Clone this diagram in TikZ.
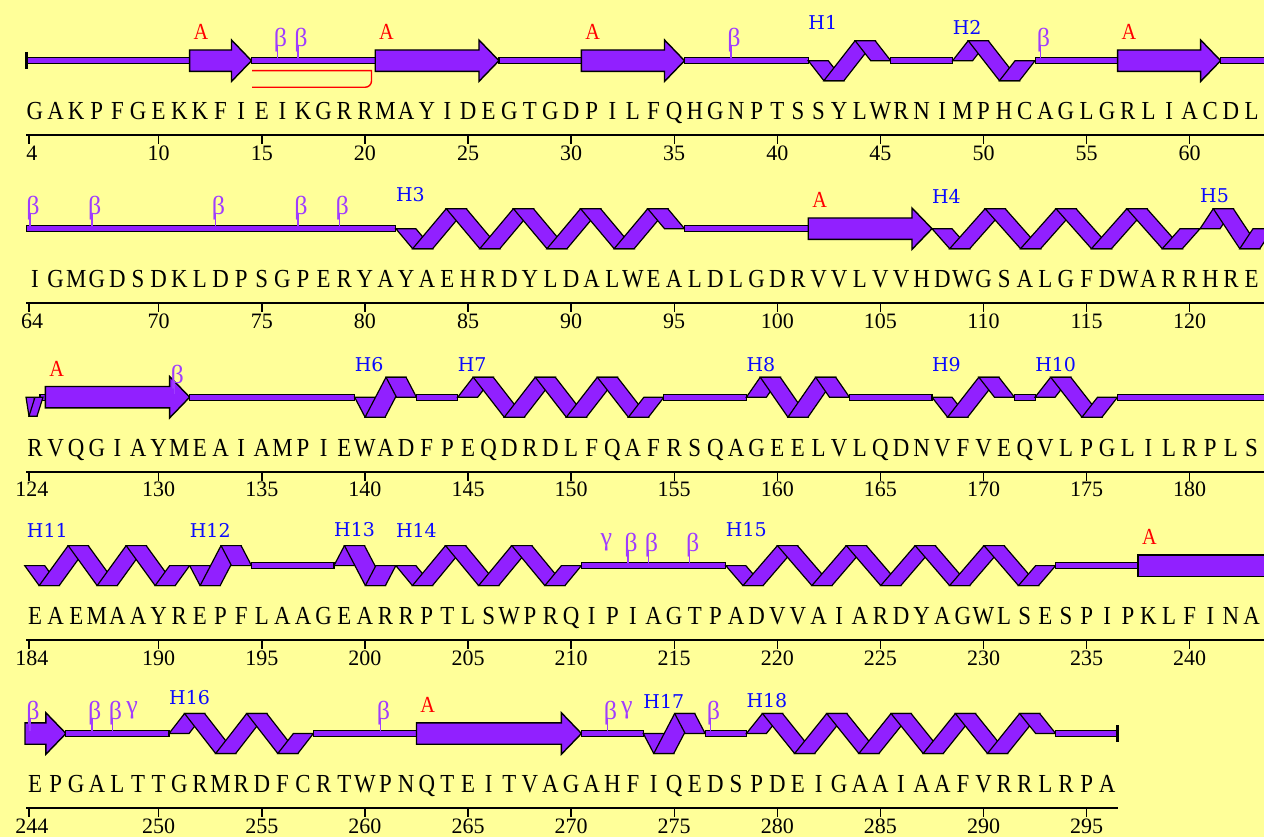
\documentclass[tikz,border=0pt]{standalone}
\usepackage{fontspec}
\newfontfamily\seqf[FakeStretch=0.88]{Liberation Serif}
\newfontfamily\numf{Liberation Serif}
\newfontfamily\labf{DejaVu Serif}
\definecolor{bgy}{RGB}{255,255,153}
\definecolor{ssp}{RGB}{145,32,255}
\definecolor{bpur}{RGB}{160,60,255}
\definecolor{hblue}{RGB}{10,10,255}
\definecolor{ared}{RGB}{255,0,0}
\tikzset{
  hel/.style={fill=ssp,draw=black,line width=1.2pt,line join=miter},
  sst/.style={fill=ssp,draw=black,line width=1.4pt,line join=miter},
  coilst/.style={fill=ssp,draw=black,line width=1.1pt},
  capline/.style={draw=black,line width=2.5pt},
  stemline/.style={draw=bpur,line width=1.3pt},
  seqt/.style={font=\seqf\fontsize{26}{26}\selectfont,inner sep=0pt,anchor=base},
  numt/.style={font=\numf\fontsize{22}{22}\selectfont,inner sep=0pt,anchor=base},
  hlabs/.style={font=\labf\fontsize{19}{19}\selectfont,text=hblue,anchor=west,inner sep=0pt},
  alabs/.style={font=\seqf\fontsize{23}{23}\selectfont,text=ared,inner sep=0pt},
  blabs/.style={font=\numf\fontsize{26}{26}\selectfont,text=bpur,inner sep=0pt,anchor=base},
  glabs/.style={font=\numf\fontsize{26}{26}\selectfont,text=bpur,inner sep=0pt},
  axl/.style={draw=black,line width=2pt},
  tk/.style={draw=black,line width=1.4pt}
}
% helix drawn between x-start and x-end with q quarter steps, d=1 first goes up, d=-1 first goes down
\newcommand\helixraw[5]{%
  \pgfmathsetmacro\hstep{(#3-#2-20)/#4}%
  \pgfmathtruncatemacro\hM{#4/2}%
  \pgfmathtruncatemacro\hMp{\hM+1}%
  \foreach \m in {1,...,\hMp}{%
    \pgfmathtruncatemacro\hka{\m-1}%
    \pgfmathsetmacro\hxa{\hka==0 ? #2 : #2+(2*\hka-1)*\hstep}%
    \pgfmathsetmacro\hya{\hka==0 ? #1 : #1-(#5)*20*(1-2*mod(\hka-1,2))}%
    \pgfmathsetmacro\hxb{\m==\hMp ? #2+#4*\hstep : #2+(2*\m-1)*\hstep}%
    \pgfmathsetmacro\hyb{\m==\hMp ? #1 : #1-(#5)*20*(1-2*mod(\m-1,2))}%
    \filldraw[hel] (\hxa,\hya) -- (\hxa+20,\hya) -- (\hxb+20,\hyb) -- (\hxb,\hyb) -- cycle;
  }}
\newcommand\helix[6]{%
  \pgfmathsetmacro\hxs{35+(#3-#2)*20.62-10.31}%
  \pgfmathsetmacro\hxe{35+(#4-#2)*20.62+10.31}%
  \helixraw{#1}{\hxs}{\hxe}{#5}{#6}}
\newcommand\strandx[3]{%
  \filldraw[sst] (#2,#1-10.7) -- (#3-20,#1-10.7) -- (#3-20,#1-20.7) -- (#3,#1) -- (#3-20,#1+20.7) -- (#3-20,#1+10.7) -- (#2,#1+10.7) -- cycle;}
\newcommand\strandr[4]{%
  \pgfmathsetmacro\sxs{35+(#3-#2)*20.62-10.31}%
  \pgfmathsetmacro\sxt{35+(#4-#2)*20.62+10.31}%
  \strandx{#1}{\sxs}{\sxt}}
\newcommand\coil[3]{\filldraw[coilst] (#2,#1-3) rectangle (#3,#1+3);}
\newcommand\coilr[4]{%
  \pgfmathsetmacro\cxa{35+(#3-#2)*20.62+10.31}%
  \pgfmathsetmacro\cxb{35+(#4-#2)*20.62-10.31}%
  \coil{#1}{\cxa}{\cxb}}
\newcommand\betal[3]{%
  \pgfmathsetmacro\bx{35+(#3-#2)*20.62}%
  \draw[stemline] (\bx-5,#1-16) -- (\bx-5,#1-3);
  \node[blabs] (b#3) at (\bx-2,#1-14) {β};}
\newcommand\gammal[3]{%
  \pgfmathsetmacro\gx{35+(#3-#2)*20.62-6}%
  \node[glabs] (g#3) at (\gx,#1-23) {γ};}
\newcommand\alab[3]{%
  \pgfmathsetmacro\ax{35+(#3-#2)*20.62+1}%
  \node[alabs] (a#3) at (\ax,#1-28.5) {A};}
\newcommand\hlab[4]{%
  \pgfmathsetmacro\hlx{35+(#3-#2)*20.62-10.31}%
  \node[hlabs] (l#4) at (\hlx,#1) {#4};}
\newcommand\seqrow[3]{%
  \foreach \ltr [count=\k from 0] in {#3}{\node[seqt] (q#2n\k) at ({35+\k*20.62},#1+59) {\ltr};}}
\newcommand\axisrow[4]{%
  \draw[axl] (26,#1+74.5) -- (#3,#1+74.5);
  \draw[tk] (29,#1+74.5) -- ++(0,9);
  \node[numt] (t#2) at (32,#1+99.5) {#2};
  \foreach \t in {#4}{\draw[tk] ({35+(\t-#2)*20.62},#1+74.5) -- ++(0,9);
    \node[numt] (t\t) at ({35+(\t-#2)*20.62},#1+99.5) {\t};}}
\begin{document}
\begin{tikzpicture}[x=1pt,y=-1pt]
\useasboundingbox (0,0) rectangle (1264,837);
\fill[bgy] (0,0) rectangle (1264,837);
\begin{scope}
\clip (0,0) rectangle (1264,837);
% ================= Row 1 (4-63) =================
\def\ya{60.7}
\coil{\ya}{26.5}{189.65}
\strandr{\ya}{4}{12}{14}
\coilr{\ya}{4}{14}{21}
\strandr{\ya}{4}{21}{26}
\coilr{\ya}{4}{26}{31}
\strandr{\ya}{4}{31}{35}
\coilr{\ya}{4}{35}{42}
\helix{\ya}{4}{42}{45}{4}{-1}
\coilr{\ya}{4}{45}{49}
\helix{\ya}{4}{49}{52}{4}{1}
\coilr{\ya}{4}{52}{57}
\strandr{\ya}{4}{57}{61}
\coil{\ya}{1220.65}{1270}
\draw[capline] (26.5,52) -- (26.5,69);
\draw[ared,line width=1.4pt] (252,70.7) -- (371.5,70.7) -- (371.5,81) to[out=-90,in=0] (365,87.3) -- (252,87.3);
\alab{\ya}{4}{12}\alab{\ya}{4}{21}\alab{\ya}{4}{31}\alab{\ya}{4}{57}
\betal{\ya}{4}{16}\betal{\ya}{4}{17}\betal{\ya}{4}{38}\betal{\ya}{4}{53}
\hlab{22}{4}{42}{H1}\hlab{27}{4}{49}{H2}
\seqrow{\ya}{4}{G,A,K,P,F,G,E,K,K,F,I,E,I,K,G,R,R,M,A,Y,I,D,E,G,T,G,D,P,I,L,F,Q,H,G,N,P,T,S,S,Y,L,W,R,N,I,M,P,H,C,A,G,L,G,R,L,I,A,C,D,L}
\axisrow{\ya}{4}{1264}{10,15,...,60}
% ================= Row 2 (64-123) =================
\def\yb{228.7}
\coil{\yb}{26.5}{395.85}
\helix{\yb}{64}{82}{95}{16}{-1}
\coilr{\yb}{64}{95}{102}
\strandr{\yb}{64}{102}{107}
\helix{\yb}{64}{108}{120}{14}{-1}
\helixraw{\yb}{1200.03}{1273}{4}{1}
\alab{\yb}{64}{102}
\betal{\yb}{64}{64}\betal{\yb}{64}{67}\betal{\yb}{64}{73}\betal{\yb}{64}{77}\betal{\yb}{64}{79}
\hlab{195}{64}{82}{H3}\hlab{196}{64}{108}{H4}\hlab{196}{64}{121}{H5}
\seqrow{\yb}{64}{I,G,M,G,D,S,D,K,L,D,P,S,G,P,E,R,Y,A,Y,A,E,H,R,D,Y,L,D,A,L,W,E,A,L,D,L,G,D,R,V,V,L,V,V,H,D,W,G,S,A,L,G,F,D,W,A,R,R,H,R,E}
\axisrow{\yb}{64}{1264}{70,75,...,120}
% ================= Row 3 (124-183) =================
\def\yc{397.2}
\coil{\yc}{40}{46}
\filldraw[hel] (26,\yc) -- (34,\yc) -- (37,\yc+19) -- (29,\yc+19) -- cycle;
\filldraw[hel] (29,\yc+19) -- (37,\yc+19) -- (43,\yc) -- (35,\yc) -- cycle;
\strandr{\yc}{124}{125}{131}
\coilr{\yc}{124}{131}{140}
\helix{\yc}{124}{140}{142}{4}{-1}
\coilr{\yc}{124}{142}{145}
\helix{\yc}{124}{145}{154}{12}{1}
\coilr{\yc}{124}{154}{159}
\helix{\yc}{124}{159}{163}{6}{1}
\coilr{\yc}{124}{163}{168}
\helix{\yc}{124}{168}{171}{4}{-1}
\coilr{\yc}{124}{171}{173}
\helix{\yc}{124}{173}{176}{4}{1}
\coil{\yc}{1117.55}{1270}
\alab{\yc}{124}{125}
\betal{\yc}{124}{131}
\hlab{365}{124}{140}{H6}\hlab{365}{124}{145}{H7}\hlab{365}{124}{159}{H8}\hlab{365}{124}{168}{H9}\hlab{365}{124}{173}{H10}
\seqrow{\yc}{124}{R,V,Q,G,I,A,Y,M,E,A,I,A,M,P,I,E,W,A,D,F,P,E,Q,D,R,D,L,F,Q,A,F,R,S,Q,A,G,E,E,L,V,L,Q,D,N,V,F,V,E,Q,V,L,P,G,L,I,L,R,P,L,S}
\axisrow{\yc}{124}{1264}{130,135,...,180}
% ================= Row 4 (184-243) =================
\def\yd{565.6}
\helix{\yd}{184}{184}{191}{10}{-1}
\helix{\yd}{184}{192}{194}{4}{-1}
\coilr{\yd}{184}{194}{199}
\helix{\yd}{184}{199}{201}{4}{1}
\helix{\yd}{184}{202}{210}{10}{-1}
\coilr{\yd}{184}{210}{218}
\helix{\yd}{184}{218}{233}{18}{-1}
\coilr{\yd}{184}{233}{238}
\filldraw[sst] (1138.17,\yd-10.7) rectangle (1270,\yd+10.7);
\alab{\yd}{184}{238}
\gammal{\yd}{184}{212}
\betal{\yd}{184}{213}\betal{\yd}{184}{214}\betal{\yd}{184}{216}
\hlab{530}{184}{184.1}{H11}\hlab{530}{184}{192}{H12}\hlab{530}{184}{199}{H13}\hlab{530}{184}{202}{H14}\hlab{530}{184}{218}{H15}
\seqrow{\yd}{184}{E,A,E,M,A,A,Y,R,E,P,F,L,A,A,G,E,A,R,R,P,T,L,S,W,P,R,Q,I,P,I,A,G,T,P,A,D,V,V,A,I,A,R,D,Y,A,G,W,L,S,E,S,P,I,P,K,L,F,I,N,A}
\axisrow{\yd}{184}{1264}{190,195,...,240}
% ================= Row 5 (244-296) =================
\def\ye{733.5}
\strandx{\ye}{25}{65.93}
\coilr{\ye}{244}{245}{251}
\helix{\ye}{244}{251}{257}{8}{1}
\coilr{\ye}{244}{257}{263}
\strandr{\ye}{244}{263}{270}
\coilr{\ye}{244}{270}{274}
\helix{\ye}{244}{274}{276}{4}{-1}
\coilr{\ye}{244}{276}{279}
\helix{\ye}{244}{279}{293}{18}{1}
\coilr{\ye}{244}{293}{297}
\draw[capline] (1117.5,\ye-8.5) -- (1117.5,\ye+8.5);
\alab{\ye}{244}{263}
\betal{\ye}{244}{244}\betal{\ye}{244}{247}\betal{\ye}{244}{248}\betal{\ye}{244}{261}\betal{\ye}{244}{272}\betal{\ye}{244}{277}
\gammal{\ye}{244}{249}\gammal{\ye}{244}{273}
\hlab{698}{244}{251}{H16}\hlab{701}{244}{274}{H17}\hlab{701}{244}{279}{H18}
\seqrow{\ye}{244}{E,P,G,A,L,T,T,G,R,M,R,D,F,C,R,T,W,P,N,Q,T,E,I,T,V,A,G,A,H,F,I,Q,E,D,S,P,D,E,I,G,A,A,I,A,A,F,V,R,R,L,R,P,A}
\axisrow{\ye}{244}{1118}{250,255,...,295}
\end{scope}
\end{tikzpicture}
\end{document}
